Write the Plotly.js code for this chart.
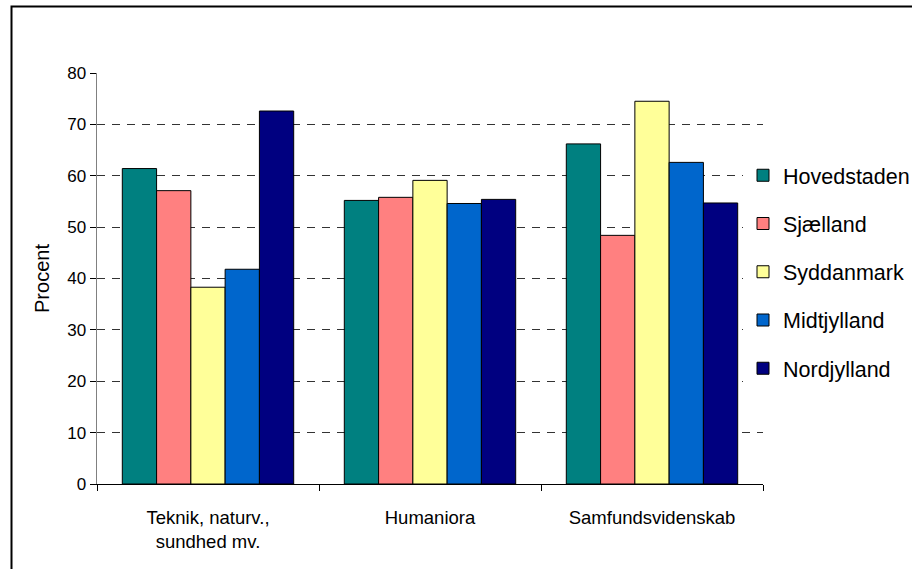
<!DOCTYPE html>
<html>
<head>
<meta charset="utf-8">
<script src="https://cdn.plot.ly/plotly-3.0.1.min.js"></script>
<style>
  html, body { margin: 0; padding: 0; background: #fff; overflow: hidden; }
  #chart { width: 960px; height: 569px; }
</style>
</head>
<body>
<div id="chart"></div>
<script>
// Categories (x axis)
const categories = ["Teknik, naturv.,<br>sundhed mv.", "Humaniora", "Samfundsvidenskab"];

// Series names
const seriesNames = ["Hovedstaden", "Sjælland", "Syddanmark", "Midtjylland", "Nordjylland"];

// Series values (Procent)
const hovedstaden = [61.4, 55.2, 66.2];
const sjaelland   = [57.1, 55.8, 48.4];
const syddanmark  = [38.3, 59.1, 74.5];
const midtjylland = [41.8, 54.6, 62.6];
const nordjylland = [72.6, 55.4, 54.7];

// Y axis ticks
const yTicks = [0, 10, 20, 30, 40, 50, 60, 70, 80];

const seriesValues = [hovedstaden, sjaelland, syddanmark, midtjylland, nordjylland];
const seriesColors = ["#008080", "#FF8080", "#FFFF99", "#0066CC", "#000080"];

const FONT = "Liberation Sans, Arial, sans-serif";

const traces = seriesNames.map((name, i) => ({
  type: "bar",
  name: name,
  x: categories,
  y: seriesValues[i],
  legendgroup: "g" + i,
  marker: { color: seriesColors[i], line: { color: "#000000", width: 1 } },
  hoverinfo: "skip"
}));

const W = 960, H = 569;
const L = 97, R = 763, T = 73, B = 484;

const layout = {
  width: W,
  height: H,
  margin: { l: L, r: W - R, t: T, b: H - B, pad: 0, autoexpand: false },
  paper_bgcolor: "#ffffff",
  plot_bgcolor: "#ffffff",
  font: { family: FONT, color: "#000000", size: 16 },
  barmode: "group",
  bargap: 0.228,
  bargroupgap: 0,
  showlegend: true,
  legend: {
    x: (743 - L) / (R - L), xanchor: "left",
    y: 0.801, yanchor: "top",
    bgcolor: "#ffffff",
    borderwidth: 0,
    font: { family: FONT, size: 21.5, color: "#000000" },
    tracegroupgap: 17.3,
    traceorder: "grouped"
  },
  xaxis: {
    type: "category",
    range: [-0.5, 2.5],
    tickson: "boundaries",
    ticks: "outside",
    ticklen: 6,
    tickcolor: "#000000",
    showline: true,
    linecolor: "#000000",
    linewidth: 1,
    showgrid: false,
    zeroline: false,
    ticklabelstandoff: 17,
    tickfont: { family: FONT, size: 18.5, color: "#000000" },
    fixedrange: true
  },
  yaxis: {
    range: [0, 80],
    tickmode: "array",
    tickvals: yTicks,
    ticktext: yTicks.map(String),
    ticks: "outside",
    ticklen: 6,
    tickcolor: "#000000",
    showline: true,
    linecolor: "#808080",
    linewidth: 1.5,
    showgrid: true,
    gridcolor: "#333333",
    gridwidth: 1,
    griddash: "8px,7px",
    zeroline: false,
    tickfont: { family: FONT, size: 17, color: "#000000" },
    title: { text: "Procent", font: { family: FONT, size: 20, color: "#000000" }, standoff: 12 },
    fixedrange: true
  },
  shapes: [
    {
      type: "rect", xref: "paper", yref: "paper",
      x0: (11.5 - L) / (R - L), x1: (950 - L) / (R - L),
      y0: (B - 600) / (B - T), y1: 1 + (T - 6.5) / (B - T),
      line: { color: "#000000", width: 2 },
      fillcolor: "rgba(0,0,0,0)",
      layer: "above"
    }
  ]
};

Plotly.newPlot("chart", traces, layout, { staticPlot: true, displayModeBar: false });
</script>
</body>
</html>
